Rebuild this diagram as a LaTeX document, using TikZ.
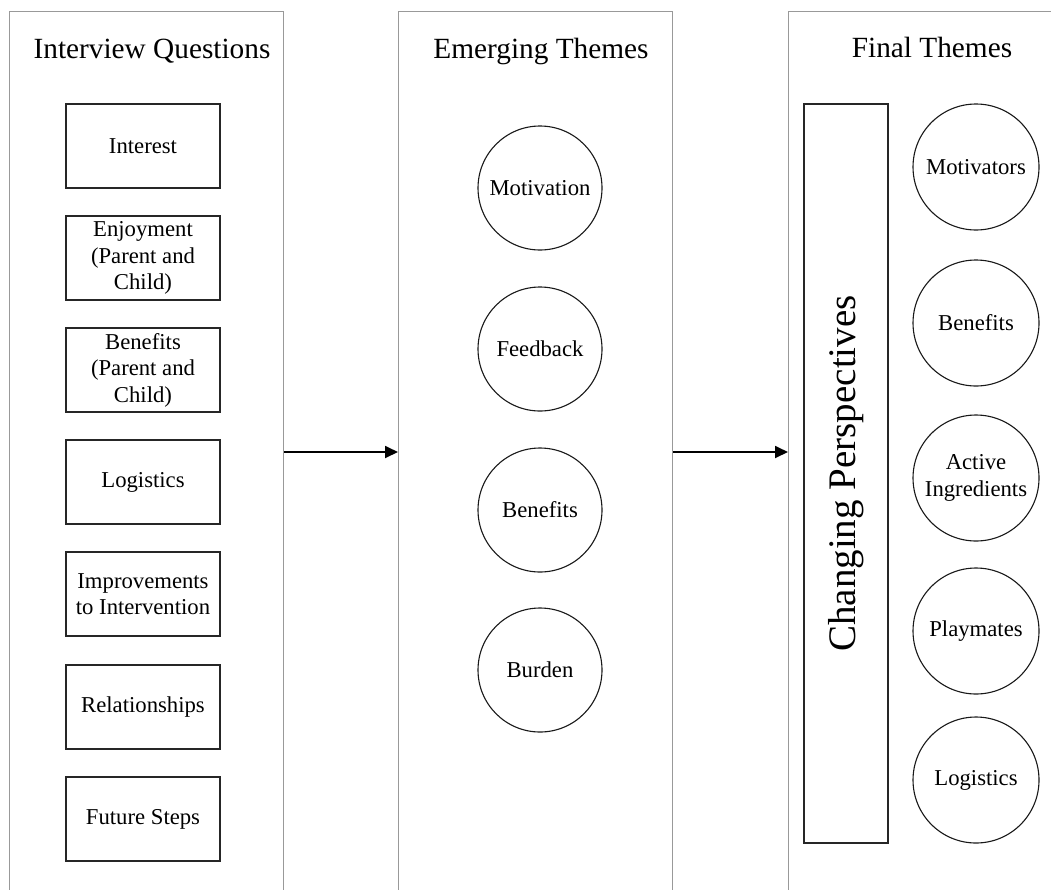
\documentclass[tikz,border=0pt]{standalone}
\usepackage{fontspec}
\setmainfont{Liberation Serif}
\usetikzlibrary{arrows.meta}
\begin{document}
\begin{tikzpicture}[x=1pt,y=-1pt,
  panel/.style={draw=black!40, line width=1pt, minimum width=274pt, minimum height=900pt, anchor=north west, inner sep=0pt},
  qbox/.style={draw=black!85, line width=1.2pt, minimum width=154pt, minimum height=84pt, align=center, inner sep=0pt, font=\fontsize{22.7}{26.5}\selectfont},
  theme/.style={draw=black!90, circle, line width=1.1pt, minimum size=124pt, align=center, inner sep=0pt, font=\fontsize{22.7}{26.5}\selectfont},
  title/.style={anchor=base, inner sep=0pt, font=\fontsize{29.3}{34}\selectfont},
  flow/.style={line width=1.8pt, -{Triangle[length=13pt,width=12pt]}}]
\useasboundingbox (0,0) rectangle (1051,889);
\clip (0,0) rectangle (1051,889);
\fill[white] (0,0) rectangle (1051,889);

% panels
\node[panel] (p1) at (9,11) {};
\node[panel] (p2) at (398,11) {};
\node[panel] (p3) at (788,11) {};

% titles
\node[title] (t1) at (152,58) {Interview Questions};
\node[title] (t2) at (541,58) {Emerging Themes};
\node[title] (t3) at (932,57) {Final Themes};

% interview questions
\node[qbox] (q1) at (143,146) {Interest};
\node[qbox] (q2) at (143,258) {Enjoyment\\(Parent and\\Child)};
\node[qbox] (q3) at (143,370) {Benefits\\(Parent and\\Child)};
\node[qbox] (q4) at (143,482) {Logistics};
\node[qbox] (q5) at (143,594) {Improvements\\to Intervention};
\node[qbox] (q6) at (143,707) {Relationships};
\node[qbox] (q7) at (143,819) {Future Steps};

% emerging themes
\node[theme] (e1) at (540,188) {Motivation};
\node[theme] (e2) at (540,349) {Feedback};
\node[theme] (e3) at (540,510) {Benefits};
\node[theme] (e4) at (540,670) {Burden};

% final themes
\node[draw=black!85, line width=1.2pt, rotate=90, minimum width=739pt, minimum height=84pt, inner sep=0pt,
      font=\fontsize{39}{44}\selectfont] (cp) at (846,473.5) {Changing Perspectives};
\node[theme, minimum size=126pt] (f1) at (976,167) {Motivators};
\node[theme, minimum size=126pt] (f2) at (976,323) {Benefits};
\node[theme, minimum size=126pt] (f3) at (976,478) {Active\\Ingredients};
\node[theme, minimum size=126pt] (f4) at (976,631) {Playmates};
\node[theme, minimum size=126pt] (f5) at (976,780) {Logistics};

% arrows
\coordinate (mid) at (0,452);
\draw[flow] (p1.east |- mid) -- (p2.west |- mid);
\draw[flow] (p2.east |- mid) -- (p3.west |- mid);
\end{tikzpicture}
\end{document}
